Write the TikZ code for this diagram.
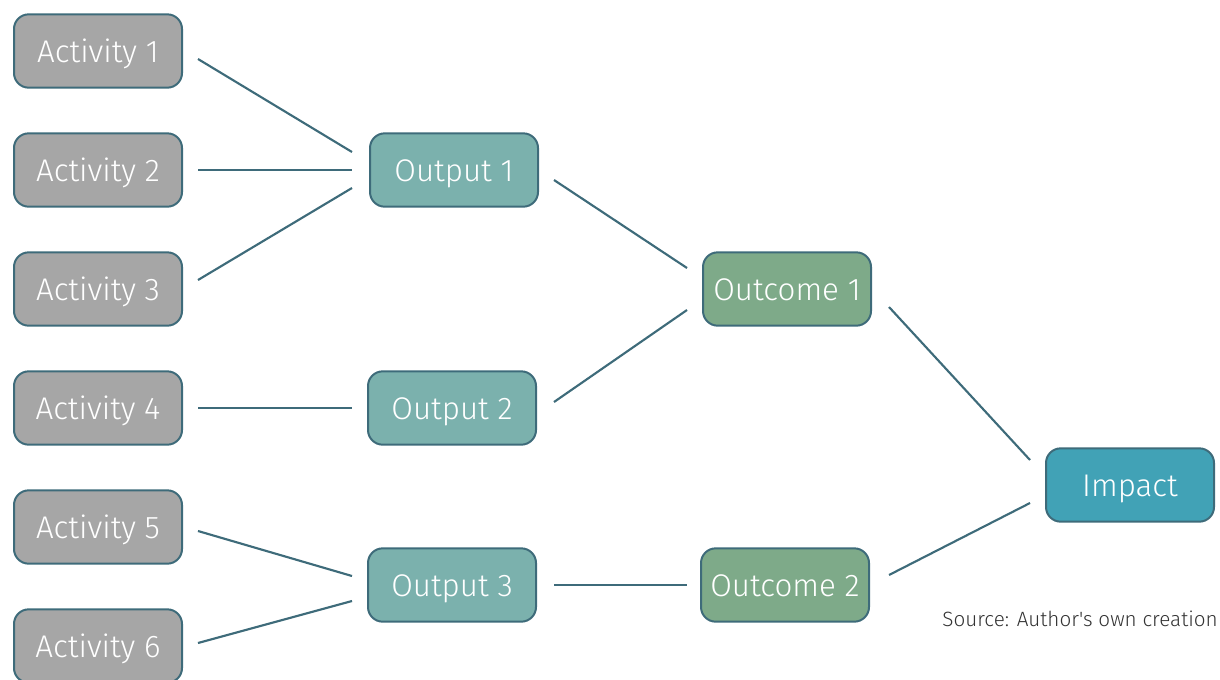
\documentclass[tikz,border=0pt]{standalone}
\usepackage{fontspec}
\newfontfamily\ff{Fira Sans}[UprightFont=* Light]
\usetikzlibrary{calc}
\definecolor{edgec}{HTML}{3E6B7A}
\definecolor{actc}{HTML}{A6A6A6}
\definecolor{outc}{HTML}{7BB1AD}
\definecolor{ocmc}{HTML}{7EAA89}
\definecolor{impc}{HTML}{41A2B6}
\definecolor{srcc}{HTML}{333333}
\tikzset{
  box/.style={draw=edgec, line width=1.5pt, rounded corners=11pt, minimum width=126pt, minimum height=55pt, inner sep=0pt, text height=16.5pt, text depth=0pt, text=white, font=\ff\fontsize{23.5}{27}\selectfont},
  act/.style={box, fill=actc},
  outp/.style={box, fill=outc},
  ocm/.style={box, fill=ocmc},
  imp/.style={box, fill=impc},
  link/.style={draw=edgec, line width=1.6pt}
}
\begin{document}
\begin{tikzpicture}[x=0.75pt,y=-0.75pt]
\useasboundingbox (0,0) rectangle (1220,679);
\node[act] (a1) at (98,51) {Activity 1};
\node[act] (a2) at (98,170) {Activity 2};
\node[act] (a3) at (98,289) {Activity 3};
\node[act] (a4) at (98,408) {Activity 4};
\node[act] (a5) at (98,527) {Activity 5};
\node[act] (a6) at (98,646) {Activity 6};
\node[outp] (o1) at (454,170) {Output 1};
\node[outp] (o2) at (452,408) {Output 2};
\node[outp] (o3) at (452,585) {Output 3};
\node[ocm] (m1) at (787,289) {Outcome 1};
\node[ocm] (m2) at (785,585) {Outcome 2};
\node[imp] (im) at (1130,485) {Impact};
\node[anchor=east, inner sep=0pt, text=srcc, font=\ff\fontsize{15.5}{18}\selectfont] (src) at (1218,619) {Source: Author's own creation};
\draw[link] ([shift={(15,8)}]a1.east) -- ([shift={(-17,-18)}]o1.west);
\draw[link] ([shift={(15,0)}]a2.east) -- ([shift={(-17,0)}]o1.west);
\draw[link] ([shift={(15,-9)}]a3.east) -- ([shift={(-17,18)}]o1.west);
\draw[link] ([shift={(15,0)}]a4.east) -- ([shift={(-15,0)}]o2.west);
\draw[link] ([shift={(15,4)}]a5.east) -- ([shift={(-15,-9)}]o3.west);
\draw[link] ([shift={(15,-3)}]a6.east) -- ([shift={(-15,16)}]o3.west);
\draw[link] ([shift={(15,10)}]o1.east) -- ([shift={(-15,-21)}]m1.west);
\draw[link] ([shift={(17,-6)}]o2.east) -- ([shift={(-15,21)}]m1.west);
\draw[link] ([shift={(17,0)}]o3.east) -- ([shift={(-13,0)}]m2.west);
\draw[link] ([shift={(17,18)}]m1.east) -- ([shift={(-15,-25)}]im.west);
\draw[link] ([shift={(19,-10)}]m2.east) -- ([shift={(-15,18)}]im.west);
\end{tikzpicture}
\end{document}
